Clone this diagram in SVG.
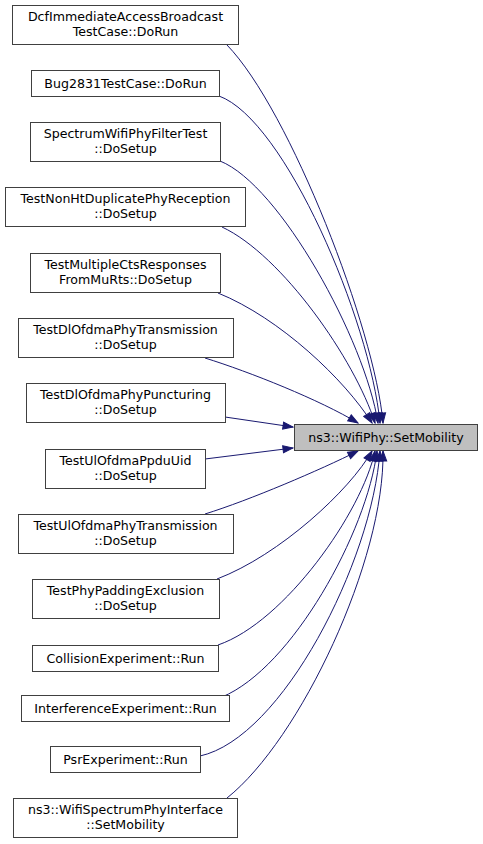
<svg xmlns="http://www.w3.org/2000/svg" width="483" height="844" viewBox="0 0 483 844">
<style>
.n rect{fill:#ffffff;stroke:#404040;stroke-width:1}
.m rect{fill:#bfbfbf;stroke:#404040;stroke-width:1}
text{font-family:"DejaVu Sans","Liberation Sans",sans-serif;font-size:12.6px;fill:#000;text-anchor:middle}
.e path{fill:none;stroke:#191970;stroke-width:1;marker-end:url(#ah)}
</style>
<defs>
<marker id="ah" markerUnits="userSpaceOnUse" markerWidth="12" markerHeight="9" refX="11" refY="4.5" orient="auto" viewBox="0 0 12 9">
<path d="M1,1 L11,4.5 L1,8 z" fill="#191970" stroke="#191970" stroke-width="1"/>
</marker>
</defs>
<rect width="483" height="844" fill="#ffffff"/>
<g id="edges" class="e">
<path d="M227,45 C290,110 375,330 383,423"/>
<path d="M219,96 C285,120 370,320 380,423"/>
<path d="M220,161 C280,185 365,340 378,423"/>
<path d="M222,227 C282,255 355,360 375,423"/>
<path d="M218,293 C280,318 345,380 372,423"/>
<path d="M205,358 C250,372 320,400 358,423"/>
<path d="M225,417 L293,427"/>
<path d="M205,459 L293,448"/>
<path d="M205,514 C250,500 320,470 358,451"/>
<path d="M217,579 C280,555 350,490 372,451"/>
<path d="M218,645 C285,622 362,512 375,451"/>
<path d="M222,697 C292,668 367,532 377,451"/>
<path d="M200,756 C282,738 372,562 380,451"/>
<path d="M227,798 C300,740 385,560 383,451"/>
</g>
<g id="main" class="m"><rect x="294.5" y="424.5" width="183" height="26"/><text x="386" y="441.5">ns3::WifiPhy::SetMobility</text></g>
<g id="n1" class="n"><rect x="12.5" y="5.5" width="226" height="39"/><text x="125.5" y="21">DcfImmediateAccessBroadcast</text><text x="125.5" y="36">TestCase::DoRun</text></g>
<g id="n2" class="n"><rect x="31.5" y="70.5" width="188" height="26"/><text x="125.5" y="87.5">Bug2831TestCase::DoRun</text></g>
<g id="n3" class="n"><rect x="30.5" y="122.5" width="190" height="39"/><text x="125.5" y="138">SpectrumWifiPhyFilterTest</text><text x="125.5" y="153">::DoSetup</text></g>
<g id="n4" class="n"><rect x="5.5" y="187.5" width="240" height="39"/><text x="125.5" y="203">TestNonHtDuplicatePhyReception</text><text x="125.5" y="218">::DoSetup</text></g>
<g id="n5" class="n"><rect x="30.5" y="253.5" width="190" height="39"/><text x="125.5" y="269">TestMultipleCtsResponses</text><text x="125.5" y="284">FromMuRts::DoSetup</text></g>
<g id="n6" class="n"><rect x="18.5" y="318.5" width="215" height="39"/><text x="125.5" y="334">TestDlOfdmaPhyTransmission</text><text x="125.5" y="349">::DoSetup</text></g>
<g id="n7" class="n"><rect x="26.5" y="383.5" width="199" height="39"/><text x="125.5" y="399">TestDlOfdmaPhyPuncturing</text><text x="125.5" y="414">::DoSetup</text></g>
<g id="n8" class="n"><rect x="45.5" y="449.5" width="160" height="39"/><text x="125.5" y="465">TestUlOfdmaPpduUid</text><text x="125.5" y="480">::DoSetup</text></g>
<g id="n9" class="n"><rect x="18.5" y="514.5" width="215" height="39"/><text x="125.5" y="530">TestUlOfdmaPhyTransmission</text><text x="125.5" y="545">::DoSetup</text></g>
<g id="n10" class="n"><rect x="32.5" y="579.5" width="187" height="39"/><text x="125.5" y="595">TestPhyPaddingExclusion</text><text x="125.5" y="610">::DoSetup</text></g>
<g id="n11" class="n"><rect x="32.5" y="645.5" width="186" height="26"/><text x="125.5" y="662.5">CollisionExperiment::Run</text></g>
<g id="n12" class="n"><rect x="21.5" y="695.5" width="208" height="26"/><text x="125.5" y="712.5">InterferenceExperiment::Run</text></g>
<g id="n13" class="n"><rect x="50.5" y="746.5" width="150" height="26"/><text x="125.5" y="763.5">PsrExperiment::Run</text></g>
<g id="n14" class="n"><rect x="13.5" y="798.5" width="224" height="39"/><text x="125.5" y="814">ns3::WifiSpectrumPhyInterface</text><text x="125.5" y="829">::SetMobility</text></g>
</svg>
